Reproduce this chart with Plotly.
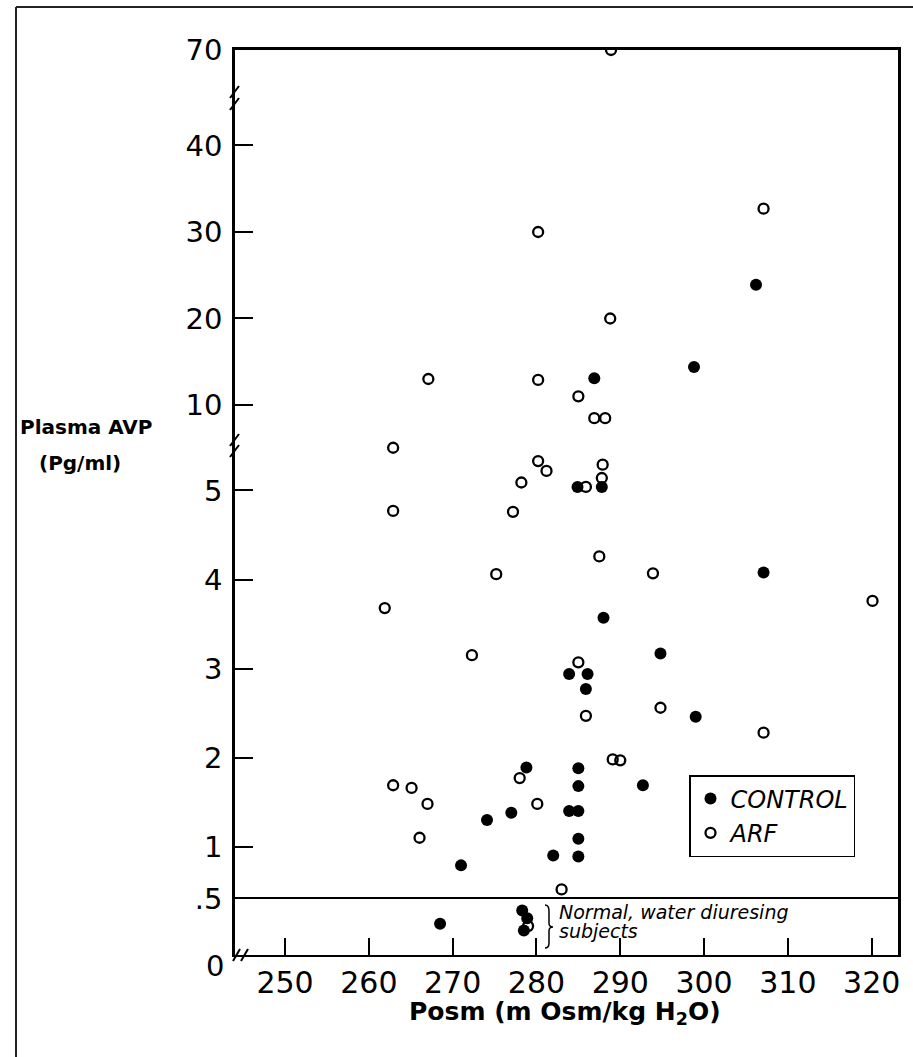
import plotly.graph_objects as go

# ---------------- data ----------------
x_ticks = [250, 260, 270, 280, 290, 300, 310, 320]
y_ticks_lower = [1, 2, 3, 4, 5]
y_ticks_upper = [10, 20, 30, 40]
y_ticks_top = [70]
y_ticks_bottom = [0.5]
y_ticktext_bottom = [".5"]

# ARF (open circles): Posm (mOsm/kg H2O), plasma AVP (pg/ml)
arf_posm = [288.9, 307.1, 280.2, 288.8, 267.1, 280.2, 285.0, 286.9, 288.2,
            262.9, 280.2, 281.2, 287.9, 287.8, 278.2, 285.9, 262.9, 277.2,
            287.5, 275.2, 293.9, 261.9, 320.1, 272.3, 285.0, 285.9, 294.8,
            307.1, 289.1, 290.0, 278.0, 262.9, 265.1, 267.0, 280.1, 266.05,
            283.0, 279.0]
arf_avp = [70.0, 32.7, 30.0, 20.0, 13.0, 12.9, 11.0, 8.47, 8.47,
           5.48, 5.33, 5.22, 5.29, 5.14, 5.09, 5.04, 4.77, 4.76,
           4.26, 4.06, 4.07, 3.68, 3.76, 3.15, 3.07, 2.47, 2.56,
           2.28, 1.98, 1.97, 1.77, 1.69, 1.66, 1.48, 1.48, 1.10,
           0.52, 0.26]

# CONTROL (filled circles)
ctrl_posm = [306.2, 298.8, 286.9, 284.9, 287.8, 307.1, 288.0, 294.8, 283.9,
             286.1, 285.9, 299.0, 278.8, 285.0, 285.0, 292.7, 277.0, 283.9,
             285.0, 274.1, 285.0, 282.0, 285.0, 271.0, 268.5, 278.3, 278.9,
             278.5]
ctrl_avp = [23.9, 14.4, 13.1, 5.04, 5.04, 4.08, 3.57, 3.17, 2.94,
            2.94, 2.77, 2.46, 1.89, 1.88, 1.68, 1.69, 1.38, 1.40,
            1.40, 1.30, 1.09, 0.90, 0.89, 0.79, 0.28, 0.40, 0.33,
            0.22]

# ---------------- layout geometry ----------------
W, H = 913, 1057
def fx(p):
    return p / W
def fy(p):
    return 1 - p / H

X_LEFT, X_RIGHT = 235, 898
x_range = [244.03, 323.14]

# broken y axis: panels from bottom to top (pixel top/bottom, value range)
panels = [
    dict(top=899.3, bottom=955, rng=[0, 0.5], tv=y_ticks_bottom, tt=y_ticktext_bottom),
    dict(top=440, bottom=899.3, rng=[0.409, 5.567], tv=y_ticks_lower, tt=[str(v) for v in y_ticks_lower]),
    dict(top=100, bottom=440, rng=[5.95, 45.26], tv=y_ticks_upper, tt=[str(v) for v in y_ticks_upper]),
    dict(top=50, bottom=100, rng=[64.2, 70], tv=y_ticks_top, tt=[str(v) for v in y_ticks_top]),
]

def panel_index(v):
    for i in range(len(panels) - 1, -1, -1):
        if v >= panels[i]["rng"][0]:
            return i
    return 0

FONT = "DejaVu Sans"
fig = go.Figure()

groups = [
    ("CONTROL", ctrl_posm, ctrl_avp, dict(symbol="circle", size=12, color="black")),
    ("ARF", arf_posm, arf_avp, dict(symbol="circle-open", size=10, color="black",
                                    line=dict(width=2.3, color="black"))),
]

for name, xs, ys, mk in groups:
    first = True
    for i in range(len(panels)):
        px = [x for x, y in zip(xs, ys) if panel_index(y) == i]
        py = [y for x, y in zip(xs, ys) if panel_index(y) == i]
        if not px:
            continue
        sfx = "" if i == 0 else str(i + 1)
        fig.add_trace(go.Scatter(
            x=px, y=py, mode="markers", name=name, legendgroup=name,
            showlegend=first, marker=mk, xaxis="x" + sfx, yaxis="y" + sfx,
            cliponaxis=(i == len(panels) - 1),
        ))
        first = False

layout = dict(
    template="none",
    width=W, height=H, margin=dict(l=0, r=0, t=0, b=0, pad=0, autoexpand=False),
    paper_bgcolor="white", plot_bgcolor="white",
    font=dict(family=FONT, color="black"),
    showlegend=True,
    legend=dict(x=fx(689), y=fy(775), xanchor="left", yanchor="top",
                bordercolor="black", borderwidth=1.5, bgcolor="white",
                font=dict(family=FONT, size=24, style="italic", color="black"),
                traceorder="normal", itemsizing="trace", tracegroupgap=0),
)

for i, p in enumerate(panels):
    sfx = "" if i == 0 else str(i + 1)
    ykey = "yaxis" + sfx
    xkey = "xaxis" + sfx
    layout[ykey] = dict(
        domain=[fy(p["bottom"]), fy(p["top"])], range=p["rng"],
        tickmode="array", tickvals=p["tv"], ticktext=p["tt"],
        ticks="inside", ticklen=18, tickwidth=2, tickcolor="black",
        showline=True, mirror=True, linewidth=2.5, linecolor="black",
        showgrid=False, zeroline=False, anchor="x" + sfx, automargin=False,
        tickfont=dict(family=FONT, size=29, color="black"),
        ticklabelstandoff=4, fixedrange=True,
    )
    if i == 0:
        layout[xkey] = dict(
            domain=[fx(X_LEFT), fx(X_RIGHT)], range=x_range,
            tickmode="array", tickvals=x_ticks,
            ticks="inside", ticklen=17, tickwidth=2, tickcolor="black",
            showline=True, mirror=True, linewidth=2, linecolor="black",
            showgrid=False, zeroline=False, anchor="y", automargin=False,
            tickfont=dict(family=FONT, size=30, color="black"),
        )
    elif i == len(panels) - 1:
        layout[xkey] = dict(
            domain=[fx(X_LEFT), fx(X_RIGHT)], matches="x", anchor="y" + sfx,
            side="top", showline=True, linewidth=3, linecolor="black",
            showticklabels=False, ticks="", showgrid=False, zeroline=False,
            automargin=False,
        )
    else:
        layout[xkey] = dict(
            domain=[fx(X_LEFT), fx(X_RIGHT)], matches="x", anchor="y" + sfx,
            visible=False, showgrid=False, zeroline=False, automargin=False,
        )

fig.update_layout(**layout)

def seg(x0, y0, x1, y1, w=2, c="black"):
    return dict(type="line", xref="paper", yref="paper",
                x0=fx(x0), y0=fy(y0), x1=fx(x1), y1=fy(y1),
                line=dict(color=c, width=w))

shapes = [
    # page frame
    seg(16, 7, 913, 7, 2, "#222"), seg(16, 7, 16, 1057, 2, "#222"),
    # y-axis breaks
    seg(230, 98, 239, 86), seg(230, 110, 239, 98),
    seg(230, 446, 239, 434), seg(230, 457, 239, 445),
    # x-axis break
    seg(233, 961, 240, 949), seg(241, 961, 248, 949),
]
# brace for the normal subjects
path = "M {:.5f},{:.5f} Q {:.5f},{:.5f} {:.5f},{:.5f} L {:.5f},{:.5f} Q {:.5f},{:.5f} {:.5f},{:.5f} Q {:.5f},{:.5f} {:.5f},{:.5f} L {:.5f},{:.5f} Q {:.5f},{:.5f} {:.5f},{:.5f}".format(
    fx(545), fy(905), fx(549), fy(905), fx(549), fy(911),
    fx(549), fy(923),
    fx(549), fy(927), fx(553), fy(927),
    fx(549), fy(927), fx(549), fy(931),
    fx(549), fy(943),
    fx(549), fy(948), fx(545), fy(948))
shapes.append(dict(type="path", xref="paper", yref="paper", path=path,
                   line=dict(color="black", width=1.5)))
fig.update_layout(shapes=shapes)

def ann(text, x, y, size, xanchor="center", bold=False, italic=False):
    return dict(text=("<b>%s</b>" % text) if bold else text,
                x=fx(x), y=fy(y), xref="paper", yref="paper",
                xanchor=xanchor, yanchor="middle", showarrow=False,
                font=dict(family=FONT, size=size, color="black",
                          style="italic" if italic else "normal"))

fig.update_layout(annotations=[
    ann("Plasma AVP", 86, 427, 20, bold=True),
    ann("(Pg/ml)", 80, 463, 20, bold=True),
    ann("Posm (m Osm/kg H<sub>2</sub>O)", 565, 1013, 25, bold=True),
    ann("0", 215, 966, 29),
    ann("Normal, water diuresing", 557, 912, 19, xanchor="left", italic=True),
    ann("subjects", 557, 931, 19, xanchor="left", italic=True),
])

page_css = (
    "document.documentElement.style.margin='0';"
    "document.body.style.margin='0';"
    "document.body.style.overflow='hidden';"
    "document.body.style.height='1057px';"
    "var gd=document.querySelector('.plotly-graph-div');"
    "gd.style.position='absolute';gd.style.left='0px';gd.style.top='0px';"
)

fig.write_html("out.html", config={"displayModeBar": False}, post_script=page_css)
